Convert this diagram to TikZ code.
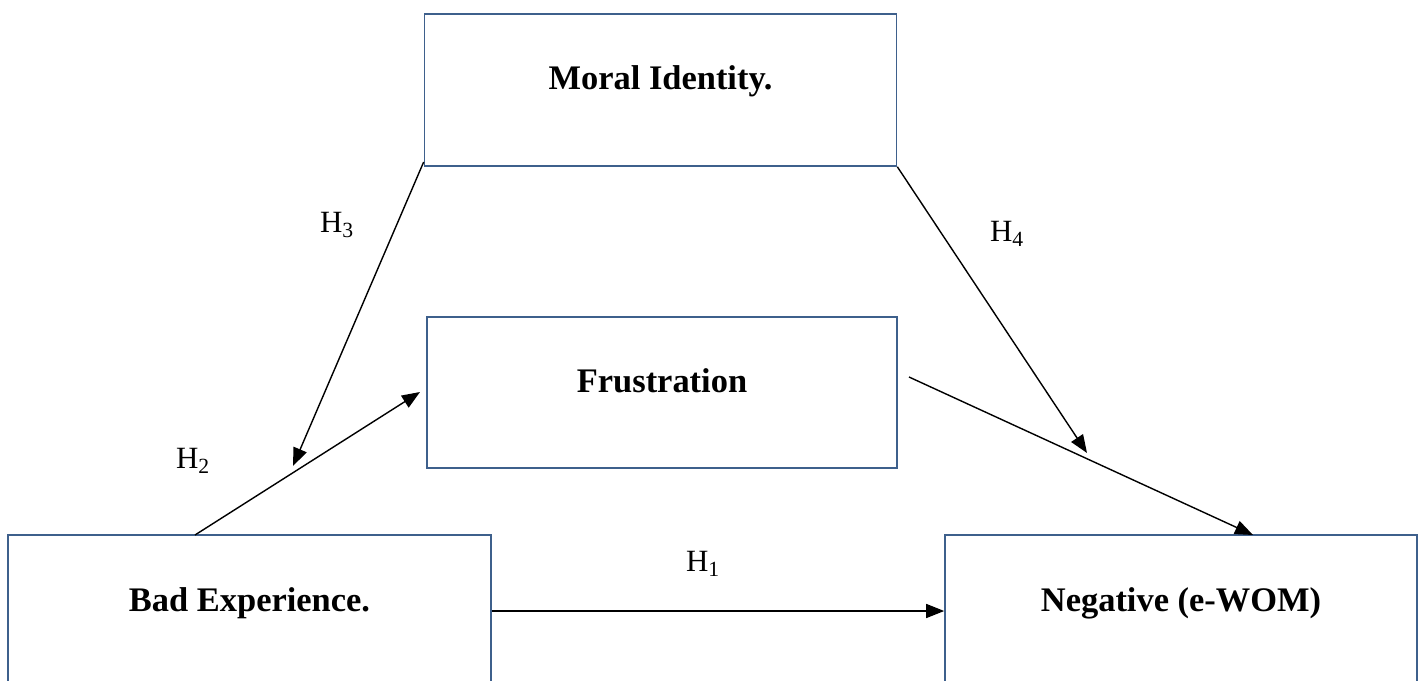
\documentclass[tikz,border=0pt]{standalone}
\usepackage{fontspec}
\setmainfont{Liberation Serif}
\usetikzlibrary{arrows.meta}
\definecolor{boxline}{RGB}{62,96,140}
\begin{document}
\begin{tikzpicture}[x=0.025cm,y=-0.025cm,
    box/.style={draw=boxline,line width=1.1pt,minimum height=3.8cm,
      text height=9pt,text depth=9pt,font=\fontsize{24.5}{28}\selectfont\bfseries},
    hyp/.style={font=\fontsize{22}{26}\selectfont},
    link/.style={line width=1pt,-{Triangle[length=0.45cm,width=0.35cm]}}]
  \useasboundingbox (0,0) rectangle (1424,681);
  \draw
    (660.5,90) node[box,minimum width=11.8cm] (mi) {Moral Identity.}
    (662,392.5) node[box,minimum width=11.75cm,minimum height=3.775cm] (fr) {Frustration}
    (249.5,611) node[box,minimum width=12.075cm] (be) {Bad Experience.}
    (1181,611) node[box,minimum width=11.8cm] (ne) {Negative (e-WOM)};
  \coordinate (be1) at (195,535);
  \coordinate (fr1) at (420,392);
  \coordinate (fr2) at (909,377);
  \coordinate (ne1) at (1253,535);
  \coordinate (h3e) at (293,466);
  \coordinate (h4e) at (1087,453);
  \draw
    (703,564) node[hyp] (h1) {H\textsubscript{1}}
    (193,461) node[hyp] (h2) {H\textsubscript{2}}
    (337,225) node[hyp] (h3) {H\textsubscript{3}}
    (1007,234) node[hyp] (h4) {H\textsubscript{4}};
  \begin{scope}[link]
    \draw (be.east) to (ne.west);
    \draw (be1) to (fr1);
    \draw ([yshift=0.12cm]mi.south west) to (h3e);
    \draw (mi.south east) to (h4e);
    \draw (fr2) to (ne1);
  \end{scope}
\end{tikzpicture}
\end{document}
